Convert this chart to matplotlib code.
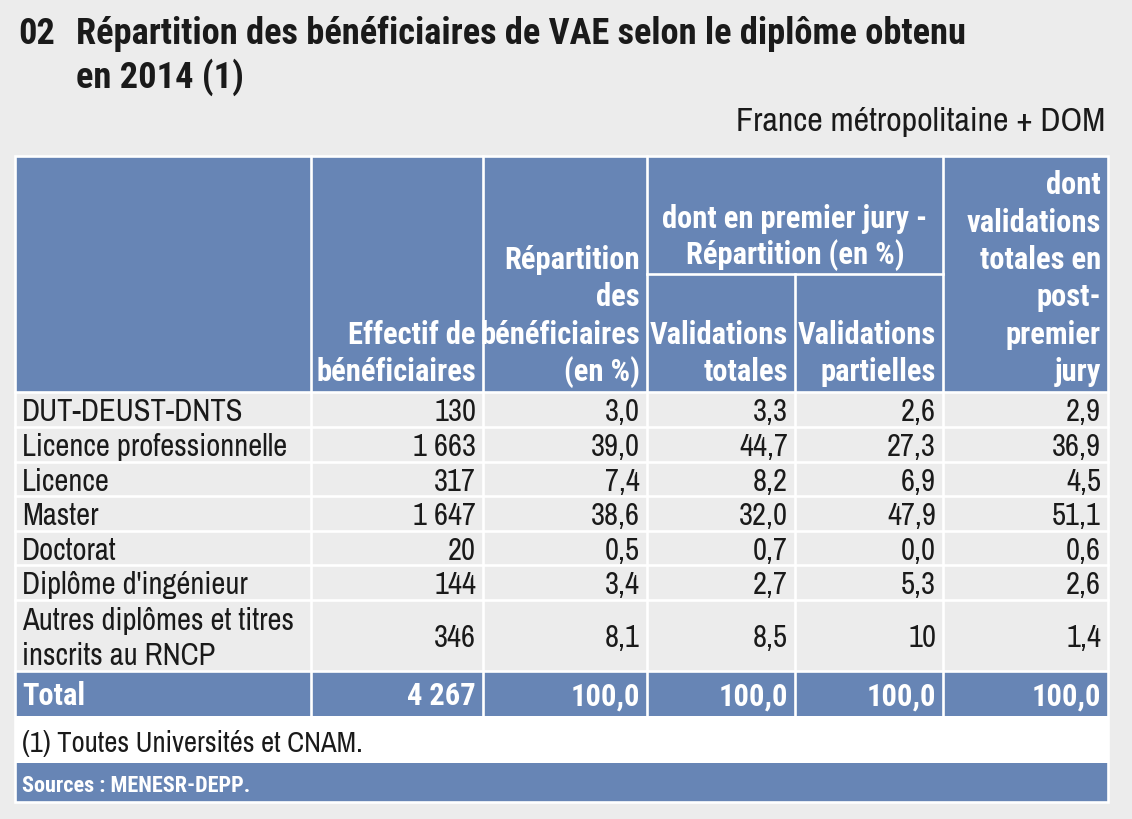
import matplotlib
matplotlib.use("Agg")
import matplotlib.pyplot as plt
from matplotlib.patches import Rectangle

W, H = 1132, 820
BG = "#ececec"
BLUE = "#6785b5"
FONT_BOLD = ["Roboto Condensed", "Liberation Sans", "DejaVu Sans"]
FONT_REG = ["Archivo Narrow", "Roboto Condensed", "Liberation Sans", "DejaVu Sans"]

# ---- data ----
categories = ["DUT-DEUST-DNTS", "Licence professionnelle", "Licence", "Master",
              "Doctorat", "Diplôme d'ingénieur",
              "Autres diplômes et titres\ninscrits au RNCP"]
effectif = [130, 1663, 317, 1647, 20, 144, 346]
repartition = [3.0, 39.0, 7.4, 38.6, 0.5, 3.4, 8.1]
valid_totales = [3.3, 44.7, 8.2, 32.0, 0.7, 2.7, 8.5]
valid_partielles = [2.6, 27.3, 6.9, 47.9, 0.0, 5.3, 10]
post_premier = [2.9, 36.9, 4.5, 51.1, 0.6, 2.6, 1.4]
total_effectif = 4267
total_pct = [100.0, 100.0, 100.0, 100.0]

header_cols = [
    ["Effectif de", "bénéficiaires"],
    ["Répartition", "des", "bénéficiaires", "(en %)"],
    ["Validations", "totales"],
    ["Validations", "partielles"],
    ["dont", "validations", "totales en", "post-", "premier", "jury"],
]
group_header = ["dont en premier jury -", "Répartition (en %)"]

# ---- layout (pixels) ----
col_x = [15, 311, 483, 647, 795, 943, 1108]
row_y = [393, 428, 462.5, 497, 531.5, 566, 600.5, 672]
HEAD_TOP, SUB_Y, TOTAL_BOTTOM = 157, 275, 717
FOOT_BOTTOM, SRC_BOTTOM = 764, 803
LINE_W = 1.9


def fmt_int(v):
    return f"{v:,}".replace(",", " ")


def fmt_num(v):
    if isinstance(v, int):
        return str(v)
    return f"{v:.1f}".replace(".", ",")


def txt(ax, x, yc, s, size=22, bold=False, ha="left", color="#1a1a1a"):
    # place text so that cap height is centred on yc
    ax.text(x, yc + 0.355 * size * 100 / 72, s, fontsize=size, ha=ha,
            va="baseline", family=FONT_BOLD if bold else FONT_REG, color=color,
            fontweight="bold" if bold else "normal")


fig = plt.figure(figsize=(W / 100, H / 100), dpi=100, facecolor=BG)
ax = fig.add_axes([0, 0, 1, 1])
ax.set_xlim(0, W)
ax.set_ylim(H, 0)
ax.axis("off")

# title
txt(ax, 18, 31, "02", size=26.2, bold=True)
txt(ax, 76, 31, "Répartition des bénéficiaires de VAE selon le diplôme obtenu",
    size=26.2, bold=True)
txt(ax, 76, 75, "en 2014 (1)", size=26.2, bold=True)
txt(ax, 1105, 119, "France métropolitaine + DOM", size=24.5, ha="right")

L, R = col_x[0], col_x[-1]
# backgrounds
ax.add_patch(Rectangle((L, HEAD_TOP), R - L, row_y[0] - HEAD_TOP, color=BLUE, lw=0))
ax.add_patch(Rectangle((L, row_y[-1]), R - L, TOTAL_BOTTOM - row_y[-1], color=BLUE, lw=0))
ax.add_patch(Rectangle((L, TOTAL_BOTTOM), R - L, FOOT_BOTTOM - TOTAL_BOTTOM, color="white", lw=0))
ax.add_patch(Rectangle((L, FOOT_BOTTOM), R - L, SRC_BOTTOM - FOOT_BOTTOM, color=BLUE, lw=0))

# grid lines
for i, x in enumerate(col_x[1:-1], start=1):
    top = SUB_Y if i == 4 else HEAD_TOP
    ax.plot([x, x], [top, TOTAL_BOTTOM], color="white", lw=LINE_W)
ax.plot([col_x[3], col_x[5]], [SUB_Y, SUB_Y], color="white", lw=LINE_W)
for y in row_y:
    ax.plot([L, R], [y, y], color="white", lw=LINE_W)
ax.add_patch(Rectangle((L, HEAD_TOP), R - L, SRC_BOTTOM - HEAD_TOP,
                       fill=False, ec="white", lw=LINE_W))

# header text
LINE_H = 37.3
for j, lines in enumerate(header_cols):
    xr = col_x[j + 2] - 7
    for k, s in enumerate(reversed(lines)):
        txt(ax, xr, 370 - k * LINE_H, s, bold=True, ha="right", color="white")
gx = (col_x[3] + col_x[5]) / 2
for k, s in enumerate(group_header):
    txt(ax, gx, 217 + k * 36.5, s, bold=True, ha="center", color="white")

# body rows
for i, cat in enumerate(categories):
    yc = (row_y[i] + row_y[i + 1]) / 2
    parts = cat.split("\n")
    if len(parts) == 1:
        txt(ax, 22, yc, cat)
    else:
        for k, p in enumerate(parts):
            txt(ax, 22, yc + (k - (len(parts) - 1) / 2) * 35, p)
    vals = [fmt_int(effectif[i]), fmt_num(repartition[i]), fmt_num(valid_totales[i]),
            fmt_num(valid_partielles[i]), fmt_num(post_premier[i])]
    for j, v in enumerate(vals):
        txt(ax, col_x[j + 2] - 7, yc, v, ha="right")

# total row
yc = (row_y[-1] + TOTAL_BOTTOM) / 2
txt(ax, 22, yc, "Total", bold=True, color="white")
tvals = [fmt_int(total_effectif)] + [fmt_num(v) for v in total_pct]
for j, v in enumerate(tvals):
    txt(ax, col_x[j + 2] - 7, yc, v, bold=True, ha="right", color="white")

# footnote and source
txt(ax, 22, 742, "(1) Toutes Universités et CNAM.", size=20.6)
txt(ax, 22, 784, "Sources : MENESR-DEPP.", size=16, bold=True, color="white")

fig.savefig("out.png", dpi=100, facecolor=BG)
